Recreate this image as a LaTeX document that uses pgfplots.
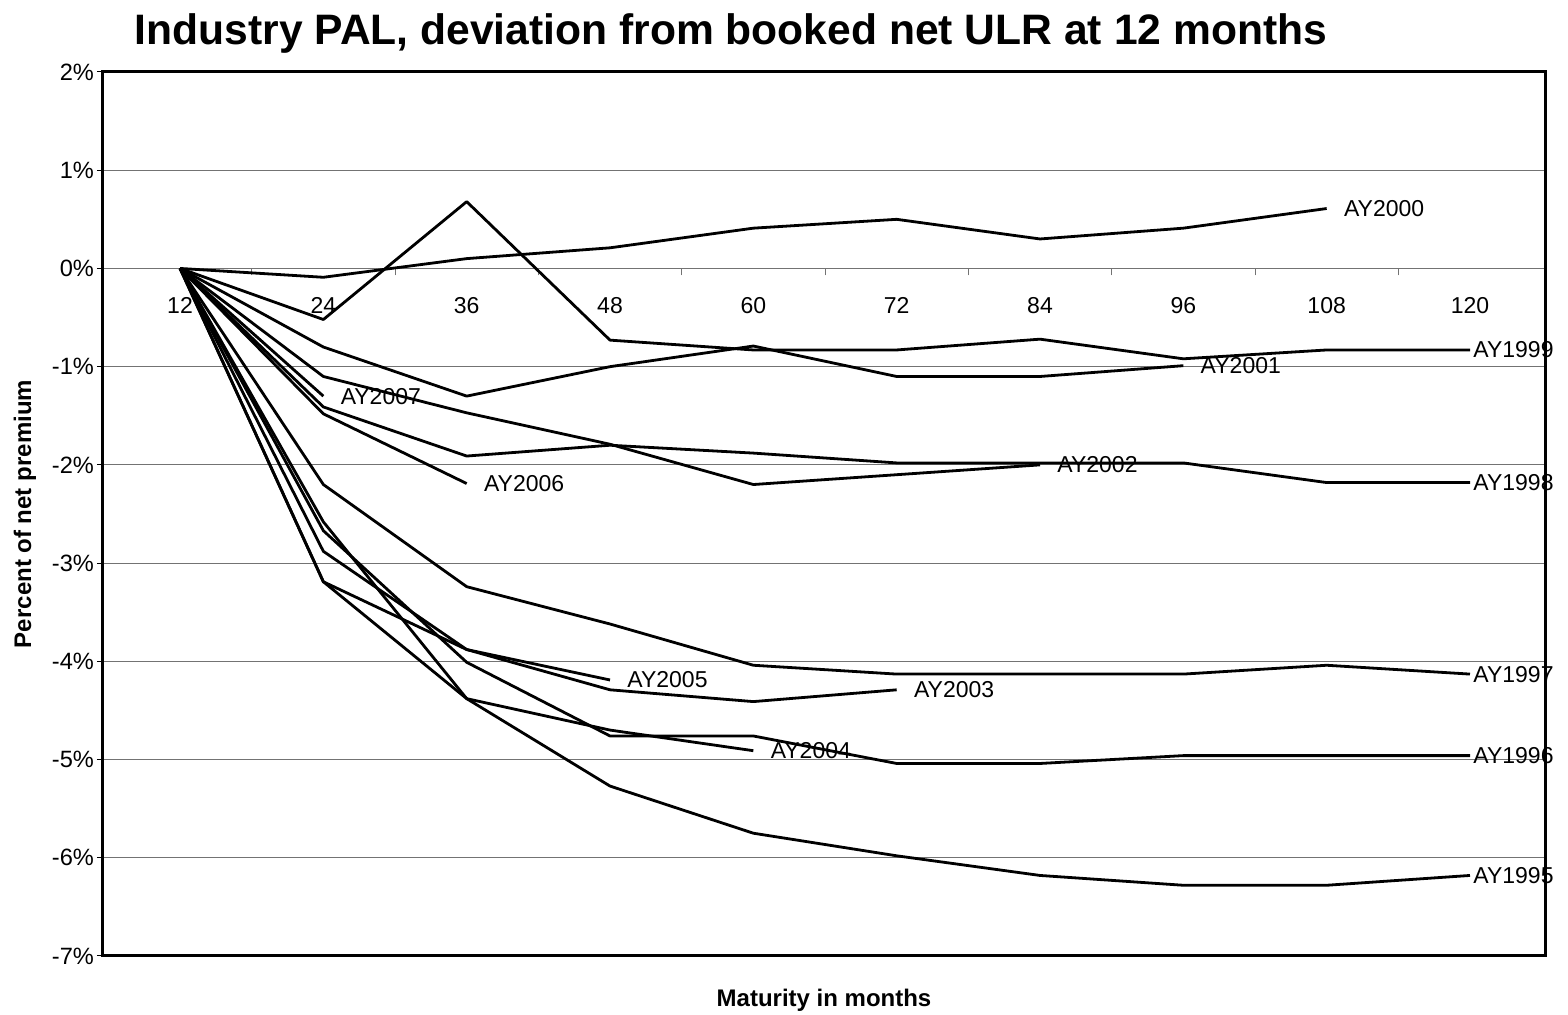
\documentclass[border=0pt]{standalone}
\usepackage{fontspec}
\setmainfont{Liberation Sans}
\usepackage{pgfplots}
\pgfplotsset{compat=1.18}
\tikzset{lbl/.style={anchor=west, inner sep=0pt, xshift=8pt, font=\fontsize{11.5}{13}\selectfont},
         lble/.style={anchor=west, inner sep=0pt, xshift=1pt, font=\fontsize{11.5}{13}\selectfont}}
\begin{document}
\begin{tikzpicture}
\begin{axis}[
  name=main,
  scale only axis,
  width=721pt, height=442pt,
  xmin=5.55, xmax=126.28,
  ymin=-7, ymax=2,
  axis x line=middle,
  axis y line=left,
  hide obscured x ticks=false,
  hide obscured y ticks=false,
  x axis line style={-, draw=black!55, line width=0.6pt},
  y axis line style={-, draw=black, line width=1.5pt},
  xtick={12,24,36,48,60,72,84,96,108,120},
  xticklabels={12,24,36,48,60,72,84,96,108,120},
  xtick style={draw=none},
  extra x ticks={18,30,42,54,66,78,90,102,114},
  extra x tick labels={},
  extra x tick style={xtick style={draw=black!55, line width=0.5pt}, tick align=outside, major tick length=3.5pt},
  xticklabel style={anchor=base, yshift=-21pt, font=\fontsize{11.5}{13}\selectfont},
  ytick={-7,-6,-5,-4,-3,-2,-1,0,1,2},
  yticklabels={-7\%,-6\%,-5\%,-4\%,-3\%,-2\%,-1\%,0\%,1\%,2\%},
  ytick align=outside,
  ytick style={black, line width=0.5pt},
  major tick length=3pt,
  yticklabel style={font=\fontsize{11.8}{13}\selectfont, xshift=2pt},
  ymajorgrids,
  grid style={black!55, line width=0.5pt},
  no markers,
  cycle list={{black,solid}},
  every axis plot/.append style={black, solid, line width=1.4pt, line join=round},
  xlabel={Maturity in months},
  ylabel={Percent of net premium},
  xlabel style={at={(axis description cs:0.5,0)}, anchor=center, yshift=-22pt, font=\fontsize{12}{14}\selectfont\bfseries},
  ylabel style={at={(axis description cs:-0.0541,0.5)}, anchor=center, rotate=0, font=\fontsize{12}{14}\selectfont\bfseries},
  title={Industry PAL, deviation from booked net ULR at 12 months},
  title style={at={(axis description cs:0.4355,1)}, anchor=base, yshift=7.5pt, font=\fontsize{21.3}{24}\selectfont\bfseries},
  clip=false,
]
% AY1995
\addplot coordinates {(12,0)(24,-3.19)(36,-4.38)(48,-5.27)(60,-5.75)(72,-5.98)(84,-6.18)(96,-6.28)(108,-6.28)(120,-6.18)} node[pos=1, lble] {AY1995};
% AY1996
\addplot coordinates {(12,0)(24,-2.67)(36,-4.01)(48,-4.76)(60,-4.76)(72,-5.04)(84,-5.04)(96,-4.96)(108,-4.96)(120,-4.96)} node[pos=1, lble] {AY1996};
% AY1997
\addplot coordinates {(12,0)(24,-2.2)(36,-3.24)(48,-3.62)(60,-4.04)(72,-4.13)(84,-4.13)(96,-4.13)(108,-4.04)(120,-4.13)} node[pos=1, lble] {AY1997};
% AY1998
\addplot coordinates {(12,0)(24,-1.41)(36,-1.91)(48,-1.80)(60,-1.88)(72,-1.98)(84,-1.98)(96,-1.98)(108,-2.18)(120,-2.18)} node[pos=1, lble] {AY1998};
% AY1999
\addplot coordinates {(12,0)(24,-0.52)(36,0.68)(48,-0.73)(60,-0.83)(72,-0.83)(84,-0.72)(96,-0.92)(108,-0.83)(120,-0.83)} node[pos=1, lble] {AY1999};
% AY2000
\addplot coordinates {(12,0)(24,-0.09)(36,0.1)(48,0.21)(60,0.41)(72,0.5)(84,0.3)(96,0.41)(108,0.61)} node[pos=1, lbl] {AY2000};
% AY2001
\addplot coordinates {(12,0)(24,-0.8)(36,-1.3)(48,-1.0)(60,-0.79)(72,-1.1)(84,-1.1)(96,-0.99)} node[pos=1, lbl] {AY2001};
% AY2002
\addplot coordinates {(12,0)(24,-1.1)(36,-1.47)(48,-1.79)(60,-2.2)(72,-2.1)(84,-2.0)} node[pos=1, lbl] {AY2002};
% AY2003
\addplot coordinates {(12,0)(24,-2.88)(36,-3.88)(48,-4.29)(60,-4.41)(72,-4.29)} node[pos=1, lbl] {AY2003};
% AY2004
\addplot coordinates {(12,0)(24,-2.58)(36,-4.38)(48,-4.70)(60,-4.91)} node[pos=1, lbl] {AY2004};
% AY2005
\addplot coordinates {(12,0)(24,-3.19)(36,-3.88)(48,-4.19)} node[pos=1, lbl] {AY2005};
% AY2006
\addplot coordinates {(12,0)(24,-1.48)(36,-2.19)} node[pos=1, lbl] {AY2006};
% AY2007
\addplot coordinates {(12,0)(24,-1.30)} node[pos=1, lbl] {AY2007};
\draw[black, line width=1.5pt] (rel axis cs:0,0) rectangle (rel axis cs:1,1);
\end{axis}
\pgfresetboundingbox
\path ([xshift=-51.5pt,yshift=-29.5pt]main.south west) rectangle ([xshift=11.5pt,yshift=36pt]main.north east);
\end{tikzpicture}
\end{document}
